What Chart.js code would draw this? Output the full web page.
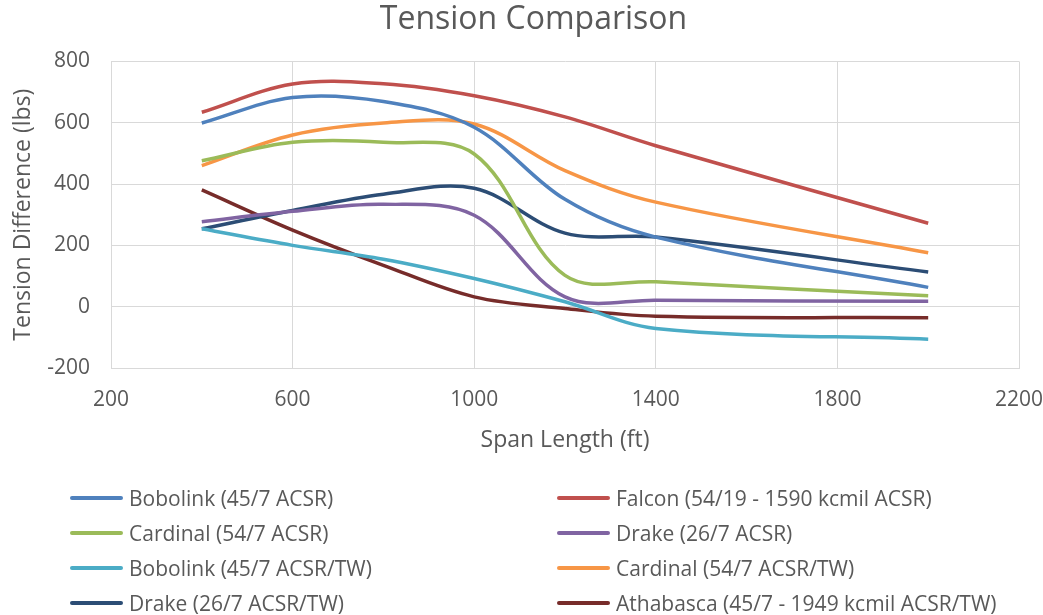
<!DOCTYPE html>
<html>
<head>
<meta charset="utf-8">
<script src="https://cdn.jsdelivr.net/npm/chart.js@4.4.1/dist/chart.umd.min.js"></script>
<style>
  body { margin: 0; background: #fff; }
  #wrap { position: relative; width: 1043px; height: 615px; }
  #legend { position: absolute; left: 0; top: 0; width: 1043px; height: 615px; pointer-events: none; }
  .item { position: absolute; height: 30px; display: flex; align-items: center;
          font-family: 'Open Sans', sans-serif; font-size: 21px; color: #595959; white-space: nowrap; }
  .swatch { width: 53px; height: 4px; border-radius: 2px; margin-right: 6px; }
</style>
</head>
<body>
<div id="wrap">
  <canvas id="tensionChart" width="1043" height="615"></canvas>
  <div id="legend"></div>
</div>
<script>
const spans = [400, 600, 800, 1000, 1200, 1400, 2000];

const bobolink   = [599, 682, 669, 585, 350, 227, 63];
const falcon     = [634, 726, 727, 688, 619, 525, 272];
const cardinal   = [476, 536, 536, 498, 102, 81, 36];
const drake      = [277, 311, 334, 298, 32, 21, 18];
const bobolinkTW = [254, 200, 155, 92, 16, -71, -106];
const cardinalTW = [460, 560, 599, 596, 444, 341, 176];
const drakeTW    = [254, 314, 367, 386, 240, 227, 113];
const athabasca  = [381, 250, 135, 32, -6, -31, -36];

const seriesNames = [
  'Bobolink (45/7 ACSR)',
  'Falcon (54/19 - 1590 kcmil ACSR)',
  'Cardinal (54/7 ACSR)',
  'Drake (26/7 ACSR)',
  'Bobolink (45/7 ACSR/TW)',
  'Cardinal (54/7 ACSR/TW)',
  'Drake (26/7 ACSR/TW)',
  'Athabasca (45/7 - 1949 kcmil ACSR/TW)'
];
const seriesValues = [bobolink, falcon, cardinal, drake, bobolinkTW, cardinalTW, drakeTW, athabasca];
const seriesColors = ['#4F81BD', '#C0504D', '#9BBB59', '#8064A2', '#4BACC6', '#F79646', '#2C4D75', '#772C2A'];

const yTicks = { min: -200, max: 800, step: 200 };
const xTicks = { min: 200, max: 2200, step: 400 };

const textColor = '#595959';
const gridColor = '#D9D9D9';
const font = 'Open Sans';

let datasets = seriesNames.map((name, i) => ({
  label: name,
  data: spans.map((x, j) => ({ x: x, y: seriesValues[i][j] })),
  borderColor: seriesColors[i],
  backgroundColor: seriesColors[i],
  borderWidth: 3.5,
  pointRadius: 0,
  tension: 0.35,
  fill: false
}));

var ctx = document.getElementById('tensionChart').getContext('2d');
var chart1 = new Chart(ctx, {
  type: 'line',
  data: { datasets: datasets },
  options: {
    responsive: false,
    animation: false,
    layout: { padding: { left: 24, right: 0, top: 0, bottom: 150 } },
    plugins: {
      legend: { display: false },
      tooltip: { enabled: false },
      title: {
        display: true,
        text: 'Tension Comparison',
        color: textColor,
        font: { family: font, size: 32, weight: 'normal' },
        padding: { top: 1, bottom: 22 }
      }
    },
    scales: {
      x: {
        type: 'linear',
        min: xTicks.min,
        max: xTicks.max,
        afterFit: s => { s.height = 97; s.paddingLeft = 0; s.paddingRight = 24; },
        ticks: { stepSize: xTicks.step, color: textColor, font: { family: font, size: 21 }, padding: 19,
                 callback: v => String(v) },
        grid: { color: gridColor, drawTicks: false },
        border: { color: gridColor },
        title: { display: true, text: 'Span Length (ft)', color: textColor,
                 font: { family: font, size: 23 }, padding: { top: 0, bottom: 11 } }
      },
      y: {
        min: yTicks.min,
        max: yTicks.max,
        afterFit: s => { s.width = 87; },
        ticks: { stepSize: yTicks.step, color: textColor, font: { family: font, size: 21 }, padding: 21,
                 callback: v => String(v) },
        grid: { color: gridColor, drawTicks: false },
        border: { color: gridColor },
        title: { display: true, text: 'Tension Difference (lbs)', color: textColor,
                 font: { family: font, size: 23 }, padding: { top: -14, bottom: 0 } }
      }
    }
  }
});

// legend in two columns, like the original
const legend = document.getElementById('legend');
seriesNames.forEach((name, i) => {
  const col = i % 2, row = Math.floor(i / 2);
  const item = document.createElement('div');
  item.className = 'item';
  item.style.left = (col ? 557 : 70) + 'px';
  item.style.top = (498 + row * 35 - 15) + 'px';
  const sw = document.createElement('span');
  sw.className = 'swatch';
  sw.style.background = seriesColors[i];
  const label = document.createElement('span');
  label.textContent = name;
  item.appendChild(sw);
  item.appendChild(label);
  legend.appendChild(item);
});
</script>
</body>
</html>
